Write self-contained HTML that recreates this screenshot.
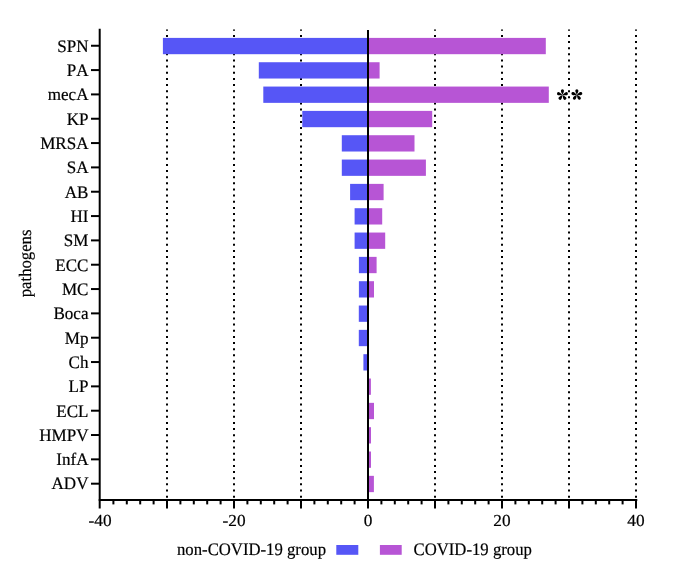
<!DOCTYPE html><html><head><meta charset="utf-8"><style>html,body{margin:0;padding:0;background:#fff;}svg{display:block;}text{font-family:"Liberation Serif",serif;fill:#000;text-rendering:geometricPrecision;font-kerning:none;stroke:#000;stroke-width:0.2px;}</style></head><body>
<svg width="685" height="574" viewBox="0 0 685 574" style="will-change:transform">
<rect x="0" y="0" width="685" height="574" fill="#fff"/>
<line x1="167.00" y1="29.4" x2="167.00" y2="499" stroke="#000" stroke-width="2" stroke-dasharray="2 4.143" stroke-dashoffset="0.64"/>
<line x1="234.00" y1="29.4" x2="234.00" y2="499" stroke="#000" stroke-width="2" stroke-dasharray="2 4.143" stroke-dashoffset="0.64"/>
<line x1="301.00" y1="29.4" x2="301.00" y2="499" stroke="#000" stroke-width="2" stroke-dasharray="2 4.143" stroke-dashoffset="0.64"/>
<line x1="435.00" y1="29.4" x2="435.00" y2="499" stroke="#000" stroke-width="2" stroke-dasharray="2 4.143" stroke-dashoffset="0.64"/>
<line x1="502.00" y1="29.4" x2="502.00" y2="499" stroke="#000" stroke-width="2" stroke-dasharray="2 4.143" stroke-dashoffset="0.64"/>
<line x1="569.00" y1="29.4" x2="569.00" y2="499" stroke="#000" stroke-width="2" stroke-dasharray="2 4.143" stroke-dashoffset="0.64"/>
<line x1="636.00" y1="29.4" x2="636.00" y2="499" stroke="#000" stroke-width="2" stroke-dasharray="2 4.143" stroke-dashoffset="0.64"/>
<rect x="162.90" y="37.90" width="205.10" height="16.30" fill="#5656F6"/>
<rect x="368.00" y="37.90" width="177.80" height="16.30" fill="#B755D5"/>
<rect x="258.80" y="62.23" width="109.20" height="16.30" fill="#5656F6"/>
<rect x="368.00" y="62.23" width="11.60" height="16.30" fill="#B755D5"/>
<rect x="263.30" y="86.56" width="104.70" height="16.30" fill="#5656F6"/>
<rect x="368.00" y="86.56" width="180.80" height="16.30" fill="#B755D5"/>
<rect x="302.30" y="110.89" width="65.70" height="16.30" fill="#5656F6"/>
<rect x="368.00" y="110.89" width="64.20" height="16.30" fill="#B755D5"/>
<rect x="341.80" y="135.22" width="26.20" height="16.30" fill="#5656F6"/>
<rect x="368.00" y="135.22" width="46.50" height="16.30" fill="#B755D5"/>
<rect x="341.80" y="159.55" width="26.20" height="16.30" fill="#5656F6"/>
<rect x="368.00" y="159.55" width="57.90" height="16.30" fill="#B755D5"/>
<rect x="350.10" y="183.88" width="17.90" height="16.30" fill="#5656F6"/>
<rect x="368.00" y="183.88" width="15.60" height="16.30" fill="#B755D5"/>
<rect x="354.60" y="208.21" width="13.40" height="16.30" fill="#5656F6"/>
<rect x="368.00" y="208.21" width="14.20" height="16.30" fill="#B755D5"/>
<rect x="354.60" y="232.54" width="13.40" height="16.30" fill="#5656F6"/>
<rect x="368.00" y="232.54" width="17.20" height="16.30" fill="#B755D5"/>
<rect x="358.90" y="256.87" width="9.10" height="16.30" fill="#5656F6"/>
<rect x="368.00" y="256.87" width="8.60" height="16.30" fill="#B755D5"/>
<rect x="358.90" y="281.20" width="9.10" height="16.30" fill="#5656F6"/>
<rect x="368.00" y="281.20" width="6.00" height="16.30" fill="#B755D5"/>
<rect x="358.80" y="305.53" width="9.20" height="16.30" fill="#5656F6"/>
<rect x="358.80" y="329.86" width="9.20" height="16.30" fill="#5656F6"/>
<rect x="363.40" y="354.19" width="4.60" height="16.30" fill="#5656F6"/>
<rect x="368.00" y="378.52" width="2.90" height="16.30" fill="#B755D5"/>
<rect x="368.00" y="402.85" width="6.00" height="16.30" fill="#B755D5"/>
<rect x="368.00" y="427.18" width="3.00" height="16.30" fill="#B755D5"/>
<rect x="368.00" y="451.51" width="3.00" height="16.30" fill="#B755D5"/>
<rect x="368.00" y="475.84" width="5.90" height="16.30" fill="#B755D5"/>
<line x1="368.0" y1="29.9" x2="368.0" y2="500" stroke="#000" stroke-width="2"/>
<line x1="99.7" y1="28.7" x2="99.7" y2="508.5" stroke="#000" stroke-width="2"/>
<line x1="98.7" y1="499.9" x2="637.3" y2="499.9" stroke="#000" stroke-width="2"/>
<line x1="113.40" y1="500" x2="113.40" y2="504.4" stroke="#000" stroke-width="2"/>
<line x1="126.80" y1="500" x2="126.80" y2="504.4" stroke="#000" stroke-width="2"/>
<line x1="140.20" y1="500" x2="140.20" y2="504.4" stroke="#000" stroke-width="2"/>
<line x1="153.60" y1="500" x2="153.60" y2="504.4" stroke="#000" stroke-width="2"/>
<line x1="167.00" y1="500" x2="167.00" y2="508.5" stroke="#000" stroke-width="2"/>
<line x1="180.40" y1="500" x2="180.40" y2="504.4" stroke="#000" stroke-width="2"/>
<line x1="193.80" y1="500" x2="193.80" y2="504.4" stroke="#000" stroke-width="2"/>
<line x1="207.20" y1="500" x2="207.20" y2="504.4" stroke="#000" stroke-width="2"/>
<line x1="220.60" y1="500" x2="220.60" y2="504.4" stroke="#000" stroke-width="2"/>
<line x1="234.00" y1="500" x2="234.00" y2="508.5" stroke="#000" stroke-width="2"/>
<line x1="247.40" y1="500" x2="247.40" y2="504.4" stroke="#000" stroke-width="2"/>
<line x1="260.80" y1="500" x2="260.80" y2="504.4" stroke="#000" stroke-width="2"/>
<line x1="274.20" y1="500" x2="274.20" y2="504.4" stroke="#000" stroke-width="2"/>
<line x1="287.60" y1="500" x2="287.60" y2="504.4" stroke="#000" stroke-width="2"/>
<line x1="301.00" y1="500" x2="301.00" y2="508.5" stroke="#000" stroke-width="2"/>
<line x1="314.40" y1="500" x2="314.40" y2="504.4" stroke="#000" stroke-width="2"/>
<line x1="327.80" y1="500" x2="327.80" y2="504.4" stroke="#000" stroke-width="2"/>
<line x1="341.20" y1="500" x2="341.20" y2="504.4" stroke="#000" stroke-width="2"/>
<line x1="354.60" y1="500" x2="354.60" y2="504.4" stroke="#000" stroke-width="2"/>
<line x1="368.00" y1="500" x2="368.00" y2="508.5" stroke="#000" stroke-width="2"/>
<line x1="381.40" y1="500" x2="381.40" y2="504.4" stroke="#000" stroke-width="2"/>
<line x1="394.80" y1="500" x2="394.80" y2="504.4" stroke="#000" stroke-width="2"/>
<line x1="408.20" y1="500" x2="408.20" y2="504.4" stroke="#000" stroke-width="2"/>
<line x1="421.60" y1="500" x2="421.60" y2="504.4" stroke="#000" stroke-width="2"/>
<line x1="435.00" y1="500" x2="435.00" y2="508.5" stroke="#000" stroke-width="2"/>
<line x1="448.40" y1="500" x2="448.40" y2="504.4" stroke="#000" stroke-width="2"/>
<line x1="461.80" y1="500" x2="461.80" y2="504.4" stroke="#000" stroke-width="2"/>
<line x1="475.20" y1="500" x2="475.20" y2="504.4" stroke="#000" stroke-width="2"/>
<line x1="488.60" y1="500" x2="488.60" y2="504.4" stroke="#000" stroke-width="2"/>
<line x1="502.00" y1="500" x2="502.00" y2="508.5" stroke="#000" stroke-width="2"/>
<line x1="515.40" y1="500" x2="515.40" y2="504.4" stroke="#000" stroke-width="2"/>
<line x1="528.80" y1="500" x2="528.80" y2="504.4" stroke="#000" stroke-width="2"/>
<line x1="542.20" y1="500" x2="542.20" y2="504.4" stroke="#000" stroke-width="2"/>
<line x1="555.60" y1="500" x2="555.60" y2="504.4" stroke="#000" stroke-width="2"/>
<line x1="569.00" y1="500" x2="569.00" y2="508.5" stroke="#000" stroke-width="2"/>
<line x1="582.40" y1="500" x2="582.40" y2="504.4" stroke="#000" stroke-width="2"/>
<line x1="595.80" y1="500" x2="595.80" y2="504.4" stroke="#000" stroke-width="2"/>
<line x1="609.20" y1="500" x2="609.20" y2="504.4" stroke="#000" stroke-width="2"/>
<line x1="622.60" y1="500" x2="622.60" y2="504.4" stroke="#000" stroke-width="2"/>
<line x1="636.00" y1="500" x2="636.00" y2="508.5" stroke="#000" stroke-width="2"/>
<line x1="91" y1="45.75" x2="99.7" y2="45.75" stroke="#000" stroke-width="2"/>
<text transform="translate(88.5,51.55) scale(0.975,1)" font-size="17.5" text-anchor="end">SPN</text>
<line x1="91" y1="70.08" x2="99.7" y2="70.08" stroke="#000" stroke-width="2"/>
<text transform="translate(88.5,75.88) scale(0.975,1)" font-size="17.5" text-anchor="end">PA</text>
<line x1="91" y1="94.41" x2="99.7" y2="94.41" stroke="#000" stroke-width="2"/>
<text transform="translate(88.5,100.21) scale(0.975,1)" font-size="17.5" text-anchor="end">mecA</text>
<line x1="91" y1="118.74" x2="99.7" y2="118.74" stroke="#000" stroke-width="2"/>
<text transform="translate(88.5,124.54) scale(0.975,1)" font-size="17.5" text-anchor="end">KP</text>
<line x1="91" y1="143.07" x2="99.7" y2="143.07" stroke="#000" stroke-width="2"/>
<text transform="translate(88.5,148.87) scale(0.975,1)" font-size="17.5" text-anchor="end">MRSA</text>
<line x1="91" y1="167.40" x2="99.7" y2="167.40" stroke="#000" stroke-width="2"/>
<text transform="translate(88.5,173.20) scale(0.975,1)" font-size="17.5" text-anchor="end">SA</text>
<line x1="91" y1="191.73" x2="99.7" y2="191.73" stroke="#000" stroke-width="2"/>
<text transform="translate(88.5,197.53) scale(0.975,1)" font-size="17.5" text-anchor="end">AB</text>
<line x1="91" y1="216.06" x2="99.7" y2="216.06" stroke="#000" stroke-width="2"/>
<text transform="translate(88.5,221.86) scale(0.975,1)" font-size="17.5" text-anchor="end">HI</text>
<line x1="91" y1="240.39" x2="99.7" y2="240.39" stroke="#000" stroke-width="2"/>
<text transform="translate(88.5,246.19) scale(0.975,1)" font-size="17.5" text-anchor="end">SM</text>
<line x1="91" y1="264.72" x2="99.7" y2="264.72" stroke="#000" stroke-width="2"/>
<text transform="translate(88.5,270.52) scale(0.975,1)" font-size="17.5" text-anchor="end">ECC</text>
<line x1="91" y1="289.05" x2="99.7" y2="289.05" stroke="#000" stroke-width="2"/>
<text transform="translate(88.5,294.85) scale(0.975,1)" font-size="17.5" text-anchor="end">MC</text>
<line x1="91" y1="313.38" x2="99.7" y2="313.38" stroke="#000" stroke-width="2"/>
<text transform="translate(88.5,319.18) scale(0.975,1)" font-size="17.5" text-anchor="end">Boca</text>
<line x1="91" y1="337.71" x2="99.7" y2="337.71" stroke="#000" stroke-width="2"/>
<text transform="translate(88.5,343.51) scale(0.975,1)" font-size="17.5" text-anchor="end">Mp</text>
<line x1="91" y1="362.04" x2="99.7" y2="362.04" stroke="#000" stroke-width="2"/>
<text transform="translate(88.5,367.84) scale(0.975,1)" font-size="17.5" text-anchor="end">Ch</text>
<line x1="91" y1="386.37" x2="99.7" y2="386.37" stroke="#000" stroke-width="2"/>
<text transform="translate(88.5,392.17) scale(0.975,1)" font-size="17.5" text-anchor="end">LP</text>
<line x1="91" y1="410.70" x2="99.7" y2="410.70" stroke="#000" stroke-width="2"/>
<text transform="translate(88.5,416.50) scale(0.975,1)" font-size="17.5" text-anchor="end">ECL</text>
<line x1="91" y1="435.03" x2="99.7" y2="435.03" stroke="#000" stroke-width="2"/>
<text transform="translate(88.5,440.83) scale(0.975,1)" font-size="17.5" text-anchor="end">HMPV</text>
<line x1="91" y1="459.36" x2="99.7" y2="459.36" stroke="#000" stroke-width="2"/>
<text transform="translate(88.5,465.16) scale(0.975,1)" font-size="17.5" text-anchor="end">InfA</text>
<line x1="91" y1="483.69" x2="99.7" y2="483.69" stroke="#000" stroke-width="2"/>
<text transform="translate(88.5,489.49) scale(0.975,1)" font-size="17.5" text-anchor="end">ADV</text>
<text transform="translate(100.00,526.4) scale(1.03,1)" font-size="16.8" text-anchor="middle">-40</text>
<text transform="translate(234.00,526.4) scale(1.03,1)" font-size="16.8" text-anchor="middle">-20</text>
<text transform="translate(368.00,526.4) scale(1.03,1)" font-size="16.8" text-anchor="middle">0</text>
<text transform="translate(502.00,526.4) scale(1.03,1)" font-size="16.8" text-anchor="middle">20</text>
<text transform="translate(636.00,526.4) scale(1.03,1)" font-size="16.8" text-anchor="middle">40</text>
<text transform="translate(30.5,263.4) rotate(-90) scale(0.955,1)" font-size="17.5" text-anchor="middle">pathogens</text>
<g transform="translate(562.45,94.95)" fill="#000">
<path transform="rotate(0)" d="M0,0 C-0.45,-1.3 -1.55,-2.6 -1.55,-4.1 A1.55,1.55 0 0 1 1.55,-4.1 C1.55,-2.6 0.45,-1.3 0,0 Z"/>
<path transform="rotate(72)" d="M0,0 C-0.45,-1.3 -1.55,-2.6 -1.55,-4.1 A1.55,1.55 0 0 1 1.55,-4.1 C1.55,-2.6 0.45,-1.3 0,0 Z"/>
<path transform="rotate(144)" d="M0,0 C-0.45,-1.3 -1.55,-2.6 -1.55,-4.1 A1.55,1.55 0 0 1 1.55,-4.1 C1.55,-2.6 0.45,-1.3 0,0 Z"/>
<path transform="rotate(216)" d="M0,0 C-0.45,-1.3 -1.55,-2.6 -1.55,-4.1 A1.55,1.55 0 0 1 1.55,-4.1 C1.55,-2.6 0.45,-1.3 0,0 Z"/>
<path transform="rotate(288)" d="M0,0 C-0.45,-1.3 -1.55,-2.6 -1.55,-4.1 A1.55,1.55 0 0 1 1.55,-4.1 C1.55,-2.6 0.45,-1.3 0,0 Z"/>
</g>
<g transform="translate(576.85,94.85)" fill="#000">
<path transform="rotate(0)" d="M0,0 C-0.45,-1.3 -1.55,-2.6 -1.55,-4.1 A1.55,1.55 0 0 1 1.55,-4.1 C1.55,-2.6 0.45,-1.3 0,0 Z"/>
<path transform="rotate(72)" d="M0,0 C-0.45,-1.3 -1.55,-2.6 -1.55,-4.1 A1.55,1.55 0 0 1 1.55,-4.1 C1.55,-2.6 0.45,-1.3 0,0 Z"/>
<path transform="rotate(144)" d="M0,0 C-0.45,-1.3 -1.55,-2.6 -1.55,-4.1 A1.55,1.55 0 0 1 1.55,-4.1 C1.55,-2.6 0.45,-1.3 0,0 Z"/>
<path transform="rotate(216)" d="M0,0 C-0.45,-1.3 -1.55,-2.6 -1.55,-4.1 A1.55,1.55 0 0 1 1.55,-4.1 C1.55,-2.6 0.45,-1.3 0,0 Z"/>
<path transform="rotate(288)" d="M0,0 C-0.45,-1.3 -1.55,-2.6 -1.55,-4.1 A1.55,1.55 0 0 1 1.55,-4.1 C1.55,-2.6 0.45,-1.3 0,0 Z"/>
</g>
<text transform="translate(177.0,555.0) scale(0.955,1)" font-size="17.5">non-COVID-19 group</text>
<rect x="336.3" y="545.0" width="22" height="9.8" fill="#5656F6"/>
<rect x="379.9" y="545.0" width="21.8" height="9.8" fill="#B755D5"/>
<text transform="translate(413.5,555.0) scale(0.955,1)" font-size="17.5">COVID-19 group</text>
</svg></body></html>
